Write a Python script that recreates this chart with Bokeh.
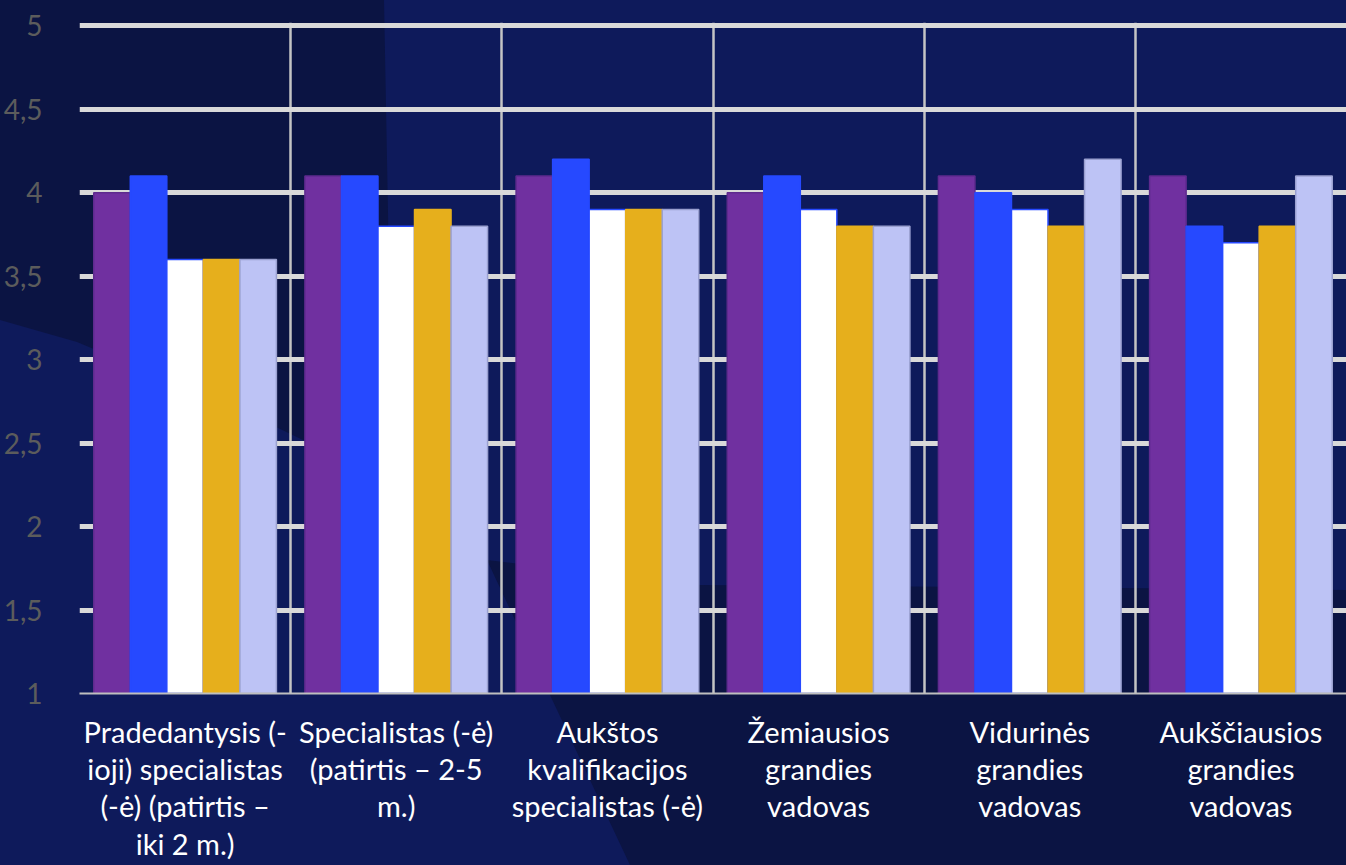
import numpy as np
from urllib.parse import quote
from bokeh.plotting import figure
from bokeh.models import Range1d, FixedTicker
from bokeh.embed import file_html
from bokeh.resources import INLINE

categories = [
    "Pradedantysis (-\nioji) specialistas\n(-ė) (patirtis –\niki 2 m.)",
    "Specialistas (-ė)\n(patirtis – 2-5\nm.)",
    "Aukštos\nkvalifikacijos\nspecialistas (-ė)",
    "Žemiausios\ngrandies\nvadovas",
    "Vidurinės\ngrandies\nvadovas",
    "Aukščiausios\ngrandies\nvadovas",
]
series_1 = [4.0, 4.1, 4.1, 4.0, 4.1, 4.1]
series_2 = [4.1, 4.1, 4.2, 4.1, 4.0, 3.8]
series_3 = [3.6, 3.8, 3.9, 3.9, 3.9, 3.7]
series_4 = [3.6, 3.9, 3.9, 3.8, 3.8, 3.8]
series_5 = [3.6, 3.8, 3.9, 3.8, 4.2, 4.1]
y_ticks = [1, 1.5, 2, 2.5, 3, 3.5, 4, 4.5, 5]
y_tick_labels = ["1", "1,5", "2", "2,5", "3", "3,5", "4", "4,5", "5"]

series = [series_1, series_2, series_3, series_4, series_5]
fills = ["#7030A0", "#2649FF", "#FFFFFF", "#E6AF1C", "#BDC3F5"]
lines = ["#5E2A8E", "#2649FF", "#2649FF", "#E6AF1C", "#9AA0D0"]

BG = "#0E1A5B"
DARK = "#0B1443"
W, H = 1346, 865
p = figure(width=W, height=H, output_backend="svg", toolbar_location=None,
           x_range=Range1d(0, 6.0), y_range=Range1d(1, 5.02),
           min_border_left=78, min_border_right=0, min_border_top=22,
           min_border_bottom=172)
p.background_fill_alpha = 0
p.border_fill_alpha = 0
p.outline_line_color = None

n = len(categories)
centers = np.arange(n) + 0.5
bw = 0.173
for k, (vals, fc, lc) in enumerate(zip(series, fills, lines)):
    xs = centers + (k - 2) * bw
    p.vbar(x=xs, width=bw, bottom=1, top=vals, fill_color=fc, line_color=lc,
           line_width=1.5)

# axes
p.xaxis.ticker = FixedTicker(ticks=list(centers))
p.xaxis.major_label_overrides = {float(c): lab for c, lab in zip(centers, categories)}
p.xaxis.major_label_text_font = "Lato"
p.xaxis.major_label_text_font_size = "29px"
p.xaxis.major_label_text_color = "#FFFFFF"
p.xaxis.major_label_text_line_height = 1.07
p.xaxis.major_label_standoff = 14
p.xaxis.major_tick_line_color = None
p.xaxis.minor_tick_line_color = None
p.xaxis.axis_line_color = "#BFBFBF"
p.xaxis.axis_line_width = 2

p.yaxis.ticker = FixedTicker(ticks=y_ticks)
p.yaxis.major_label_overrides = {float(t): l for t, l in zip(y_ticks, y_tick_labels)}
p.yaxis.major_label_text_font = "Lato"
p.yaxis.major_label_text_font_size = "28px"
p.yaxis.major_label_text_color = "#5C5C5C"
p.yaxis.major_label_standoff = 31
p.yaxis.major_tick_line_color = None
p.yaxis.minor_tick_line_color = None
p.yaxis.axis_line_color = None

p.ygrid.ticker = FixedTicker(ticks=y_ticks[1:])
p.ygrid.grid_line_color = "#D9D9D9"
p.ygrid.grid_line_width = 5
p.xgrid.ticker = FixedTicker(ticks=list(range(n + 1)))
p.xgrid.grid_line_color = "#C4C4C4"
p.xgrid.grid_line_width = 2.5

# decorative page background (slide artwork behind the chart)
deco = [
    "0,0 384,0 388,213 392,480 303,440 276,427 180,385 77,342 0,320",
    "487,560 700,585 1120,588 1346,590 1346,865 630,865 550,695",
]
svg = ("<svg xmlns='http://www.w3.org/2000/svg' width='1346' height='865'>"
       "<rect width='1346' height='865' fill='%s'/>" % BG
       + "".join("<polygon points='%s' fill='%s'/>" % (pts, DARK) for pts in deco)
       + "</svg>")
css = ("<style>html,body{margin:0;background-color:%s;"
       "background-image:url(\"data:image/svg+xml,%s\");"
       "background-repeat:no-repeat;background-position:0 0;}</style>"
       % (BG, quote(svg)))

html = file_html(p, INLINE)
html = html.replace("</head>", css + "</head>", 1)
open("out.html", "w").write(html)
